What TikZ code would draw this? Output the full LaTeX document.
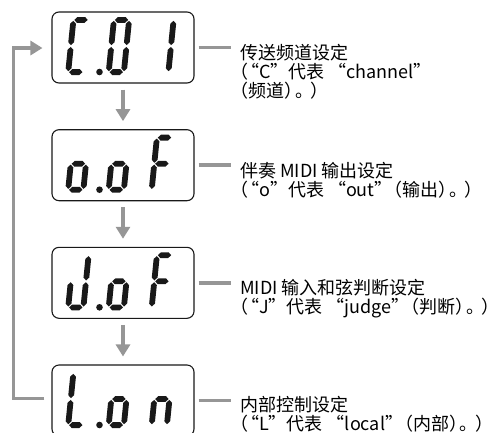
\documentclass[tikz,border=0pt]{standalone}
\usepackage{fontspec}
\setmainfont{Noto Sans CJK SC}
\usetikzlibrary{arrows.meta,calc}
\definecolor{lgray}{RGB}{150,150,150}
\definecolor{ink}{RGB}{25,25,25}
% seven-segment geometry
\def\segT{2.9}
\def\segG{0.9}
\newcommand\hseg[3]{\fill[ink] (#1+\segG,#3) -- (#1+\segG+\segT,#3+\segT) -- (#2-\segG-\segT,#3+\segT) -- (#2-\segG,#3) -- (#2-\segG-\segT,#3-\segT) -- (#1+\segG+\segT,#3-\segT) -- cycle;}
\newcommand\vseg[3]{\fill[ink] (#1,#2+\segG) -- (#1+\segT,#2+\segG+\segT) -- (#1+\segT,#3-\segG-\segT) -- (#1,#3-\segG) -- (#1-\segT,#3-\segG-\segT) -- (#1-\segT,#2+\segG+\segT) -- cycle;}
\newcommand\sgA{\hseg{2.9}{18.1}{55.1}}
\newcommand\sgB{\vseg{18.1}{29}{55.1}}
\newcommand\sgC{\vseg{18.1}{2.9}{29}}
\newcommand\sgD{\hseg{2.9}{18.1}{2.9}}
\newcommand\sgE{\vseg{2.9}{2.9}{29}}
\newcommand\sgF{\vseg{2.9}{29}{55.1}}
\newcommand\sgG{\hseg{2.9}{18.1}{29}}
\newcommand\lcddigit[3]{\begin{scope}[shift={(#1,#2)},xslant=0.1,y=1pt]
  \foreach \s in {#3}{\csname sg\s\endcsname}
\end{scope}}
\newcommand\lcdpoint[2]{\fill[ink] (#1,#2) circle (3.3);}
% punctuation compression
\newcommand\openp{\kern-0.55em（}
\newcommand\pk{\kern-0.4em}
\newcommand\pkk{\kern-0.45em}
\newcommand\pks{\kern-0.15em}
\tikzset{
  lcdbox/.style={draw=ink, line width=1.1pt, rounded corners=7pt, minimum width=142pt, minimum height=71pt, inner sep=0pt},
  gline/.style={draw=lgray, line width=3.5pt},
  garrow/.style={gline, -{Triangle[width=14pt,length=12pt]}, lgray},
  txt/.style={anchor=north west, align=left, inner sep=0pt, text=black, font=\fontsize{18}{19}\selectfont}
}
\begin{document}
\begin{tikzpicture}[x=1pt,y=-1pt]
\useasboundingbox (0,0) rectangle (500,432);
\clip (0,0) rectangle (500,432);
% display boxes
\node[lcdbox] (d1) at (123,47.5) {};
\node[lcdbox] (d2) at (123,165.2) {};
\node[lcdbox] (d3) at (123,282.8) {};
\node[lcdbox] (d4) at (123,400.5) {};
% digits: box tops 12, 129.7, 247.3, 365 ; digit bottom = top+63
\lcddigit{65}{75}{A,D,E,F}
\lcdpoint{99.5}{72}
\lcddigit{105.5}{75}{A,B,C,D,E,F}
\lcddigit{150}{75}{B,C}
%
\lcddigit{65}{192.7}{C,D,E,G}
\lcdpoint{99.5}{189.7}
\lcddigit{105.5}{192.7}{C,D,E,G}
\lcddigit{148.5}{192.7}{A,E,F,G}
%
\lcddigit{65}{310.3}{B,C,D,E}
\lcdpoint{99.5}{307.3}
\lcddigit{105.5}{310.3}{C,D,E,G}
\lcddigit{148.5}{310.3}{A,E,F,G}
%
\lcddigit{65}{428}{D,E,F}
\lcdpoint{99.5}{425}
\lcddigit{105.5}{428}{C,D,E,G}
\lcddigit{148.5}{428}{C,E,G}
% texts
\node[txt] (t1) at (240,44.5) {传送频道设定\\\openp\pk“C”代表 “channel”\\\openp 频道）\pk。\pks）};
\node[txt] (t2) at (240,162.5) {伴奏 MIDI 输出设定\\\openp\pk“o”代表 “out”\pkk（输出）\pk。\pks）};
\node[txt] (t3) at (240,279.5) {MIDI 输入和弦判断设定\\\openp\pk“J”代表 “judge”\pkk（判断）\pk。\pks）};
\node[txt] (t4) at (240,396.5) {内部控制设定\\\openp\pk“L”代表 “local”\pkk（内部）\pk。\pks）};
% connectors to texts
\foreach \i in {1,2,3,4}{
  \draw[gline] ($(d\i.east)+(4,0)$) -- ($(d\i.east -| t\i.west)+(-9,0)$);
}
% down arrows
\draw[garrow] ($(d1.south)+(0,6)$) -- ($(d2.north)+(0,-8)$);
\draw[garrow] ($(d2.south)+(0,6)$) -- ($(d3.north)+(0,-8)$);
\draw[garrow] ($(d3.south)+(0,6)$) -- ($(d4.north)+(0,-8)$);
% loop back
\draw[garrow] ($(d4.west)+(-7,-2)$) -- ++(-31,0) |- ($(d1.west)+(-9,0.5)$);
\end{tikzpicture}
\end{document}
